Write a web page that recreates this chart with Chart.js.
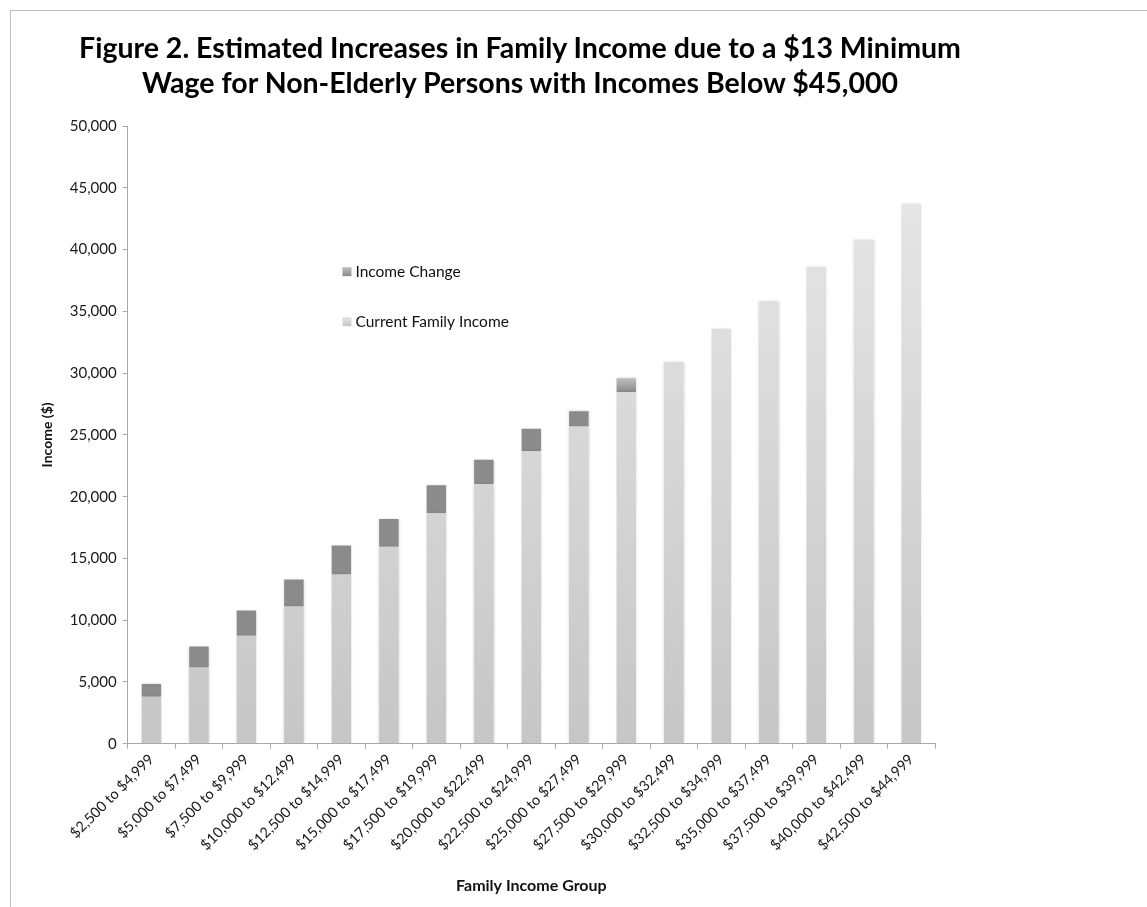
<!DOCTYPE html>
<html>
<head>
<meta charset="utf-8">
<title>Figure 2</title>
<script src="https://cdn.jsdelivr.net/npm/chart.js@4.4.1/dist/chart.umd.min.js"></script>
<style>
  body { margin: 0; background: #fff; }
  .frame { position: relative; width: 1147px; height: 907px; overflow: hidden; }
  .frame::before {
    content: ''; position: absolute; left: 10px; top: 10px; right: -5px; bottom: -5px;
    border-top: 1px solid #bdbdbd; border-left: 1px solid #bdbdbd;
  }
  canvas { position: absolute; left: 0; top: 0; }
  .fig-title {
    position: absolute; left: 0; top: 30px; width: 1040px; z-index: 2;
    text-align: center; font: bold 28.5px/35px Lato, "Open Sans", sans-serif; color: #000;
    white-space: nowrap;
  }
</style>
</head>
<body>
<div class="frame">
  <canvas id="incomeChart" width="1147" height="907"></canvas>
  <div class="fig-title">Figure 2. Estimated Increases in Family Income due to a $13 Minimum<br>Wage for Non-Elderly Persons with Incomes Below $45,000</div>
</div>
<script>
// family income groups (x categories)
const incomeGroups = [
  '$2,500 to $4,999', '$5,000 to $7,499', '$7,500 to $9,999', '$10,000 to $12,499',
  '$12,500 to $14,999', '$15,000 to $17,499', '$17,500 to $19,999', '$20,000 to $22,499',
  '$22,500 to $24,999', '$25,000 to $27,499', '$27,500 to $29,999', '$30,000 to $32,499',
  '$32,500 to $34,999', '$35,000 to $37,499', '$37,500 to $39,999', '$40,000 to $42,499',
  '$42,500 to $44,999'
];

// dollars
const currentIncome = [3800, 6170, 8740, 11110, 13700, 15950, 18660, 21010, 23680, 25670, 28480, 30900, 33600, 35800, 38600, 40800, 43700];
const incomeChange  = [1030, 1700, 2040, 2180, 2340, 2250, 2270, 1970, 1810, 1250, 1110, 0, 0, 0, 0, 0, 0];

// y axis ticks
const yMin = 0;
const yMax = 50000;
const yStep = 5000;

const FONT = 'Lato, "Open Sans", sans-serif';

// per-bar vertical gradient, like the office-style fill
const barShading = {
  id: 'barShading',
  beforeDatasetsDraw(chart) {
    const ctx = chart.ctx;
    chart.data.datasets.forEach((ds, i) => {
      chart.getDatasetMeta(i).data.forEach(bar => {
        const top = Math.min(bar.y, bar.base);
        const bottom = Math.max(bar.y, bar.base);
        if (bottom - top < 1) return;
        const g = ctx.createLinearGradient(0, top, 0, bottom);
        g.addColorStop(0, ds.shadeTop);
        g.addColorStop(1, ds.shadeBottom);
        bar.options.backgroundColor = g;
      });
    });
  },
  beforeDatasetDraw(chart) {
    const ctx = chart.ctx;
    ctx.save();
    ctx.shadowColor = 'rgba(0,0,0,0.18)';
    ctx.shadowBlur = 3;
  },
  afterDatasetDraw(chart) {
    chart.ctx.restore();
  }
};

// legend sitting inside the plot, top series first
const insideLegend = {
  id: 'insideLegend',
  afterDraw(chart, args, opts) {
    const { ctx, chartArea: a } = chart;
    const x = a.left + (a.right - a.left) * opts.x;
    let y = a.top + (a.bottom - a.top) * opts.y;
    ctx.save();
    ctx.font = '15.5px ' + FONT;
    ctx.textBaseline = 'middle';
    chart.data.datasets.slice().reverse().forEach(ds => {
      const g = ctx.createLinearGradient(0, y - 4, 0, y + 5);
      g.addColorStop(0, ds.shadeTop);
      g.addColorStop(1, ds.shadeBottom);
      ctx.fillStyle = g;
      ctx.fillRect(x, y - 4, 9, 9);
      ctx.fillStyle = '#111';
      ctx.fillText(ds.label, x + 13, y + 1);
      y += opts.spacing;
    });
    ctx.restore();
  }
};

new Chart(document.getElementById('incomeChart'), {
  type: 'bar',
  data: {
    labels: incomeGroups,
    datasets: [
      {
        label: 'Current Family Income',
        data: currentIncome,
        backgroundColor: '#d6d6d6',
        shadeTop: '#e5e5e5',
        shadeBottom: '#c6c6c6'
      },
      {
        label: 'Income Change',
        data: incomeChange,
        backgroundColor: '#a0a0a0',
        shadeTop: '#bebebe',
        shadeBottom: '#8b8b8b'
      }
    ]
  },
  options: {
    responsive: false,
    animation: false,
    devicePixelRatio: 1,
    layout: { padding: { left: 28, right: 212, top: 126, bottom: 12 } },
    datasets: { bar: { categoryPercentage: 1, barPercentage: 0.41 } },
    plugins: {
      legend: { display: false },
      tooltip: { enabled: false },
      insideLegend: { x: 0.266, y: 0.235, spacing: 50 }
    },
    scales: {
      x: {
        stacked: true,
        grid: { drawOnChartArea: false, drawTicks: true, tickLength: 5, color: '#a8a8a8' },
        border: { color: '#a8a8a8' },
        ticks: {
          autoSkip: false, maxRotation: 45, minRotation: 45, padding: 2,
          color: '#1a1a1a', font: { family: FONT, size: 14.5 }
        },
        title: {
          display: true, text: 'Family Income Group', color: '#111',
          font: { family: FONT, size: 16, weight: 'bold' }, padding: { top: 20, bottom: 0 }
        }
      },
      y: {
        stacked: true,
        min: yMin,
        max: yMax,
        grid: { drawOnChartArea: false, drawTicks: true, tickLength: 5, color: '#a8a8a8' },
        border: { color: '#a8a8a8' },
        ticks: {
          stepSize: yStep, padding: 6,
          color: '#1a1a1a', font: { family: FONT, size: 15 }
        },
        title: {
          display: true, text: 'Income ($)', color: '#111',
          font: { family: FONT, size: 14, weight: 'bold' }, padding: { top: 11, bottom: 8 }
        }
      }
    }
  },
  plugins: [barShading, insideLegend]
});
</script>
</body>
</html>
